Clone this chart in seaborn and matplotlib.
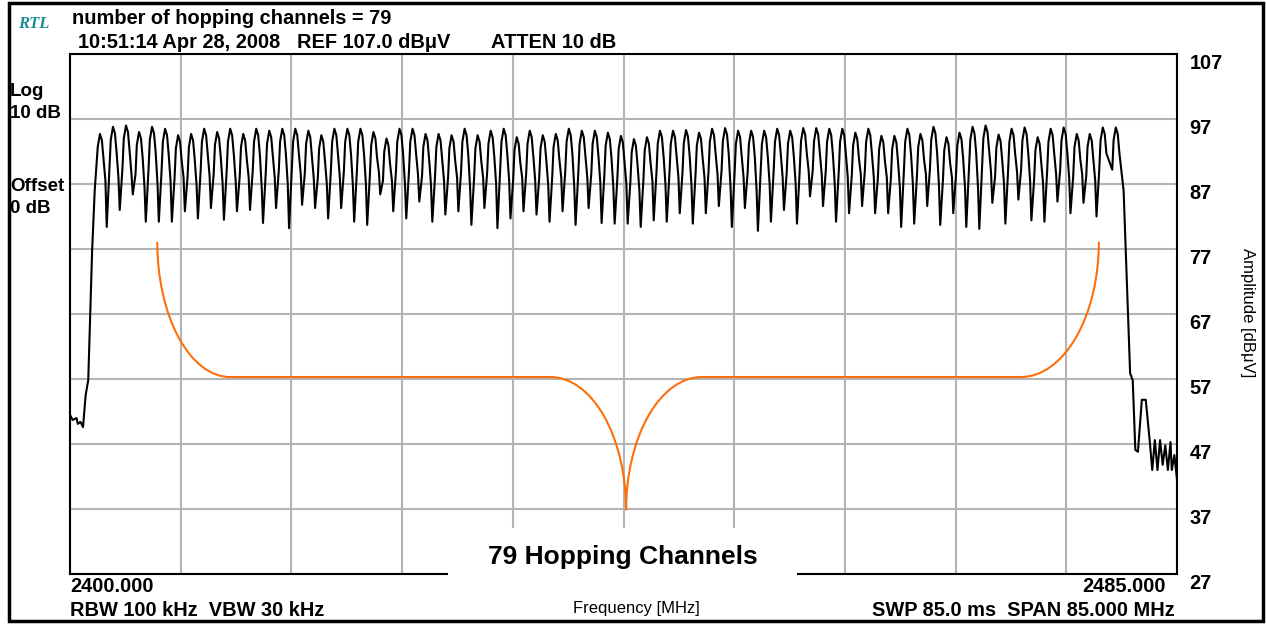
import matplotlib
matplotlib.use("Agg")
import matplotlib.pyplot as plt
from matplotlib.patches import Arc, Rectangle
import seaborn as sns
import pandas as pd

# Spectrum trace values

# left shoulder of the band (MHz, dBuV)
left_f = [2400.0, 2400.2, 2400.5, 2400.6, 2400.8, 2401.0, 2401.2, 2401.4, 2401.7, 2401.9]
left_db = [51.5, 50.7, 51.0, 50.1, 50.4, 49.6, 54.5, 56.8, 76.8, 86.1]

# one peak per hopping channel, 2402 ... 2480 MHz
channels = list(range(2402, 2481))
peaks = [94.7, 95.8, 96.0, 95.0, 95.8, 95.5, 94.5, 94.7, 95.5, 95.0,
         95.5, 94.7, 95.5, 95.2, 95.5, 95.5, 95.2, 94.5, 95.5, 95.5,
         95.5, 95.0, 94.0, 95.5, 95.5, 94.7, 94.7, 94.5, 95.5, 94.5,
         95.2, 95.5, 94.2, 95.2, 94.5, 94.7, 95.5, 95.2, 95.2,
         94.9, 94.4, 93.9, 94.2, 95.2, 95.2, 95.3, 94.9, 95.5, 95.6,
         95.2, 95.2, 95.2, 95.5, 95.2, 95.6, 95.6, 95.5, 95.5, 94.9,
         95.5, 94.4, 94.4, 95.5, 94.7, 95.8, 94.2, 94.9, 95.8, 96.0,
         94.6, 95.5, 95.7, 94.2, 95.5, 95.7, 94.7, 94.7, 95.7, 95.7]
# shoulder and sharp notch between neighbouring channels
shoulders = [87.5, 88.0, 88.5, 86.5, 87.0, 87.5, 88.0, 86.8, 88.2, 87.0,
             87.5, 88.0, 86.5, 88.0, 87.0, 88.5, 87.8, 87.0, 88.0, 86.8,
             87.0, 88.8, 87.5, 87.0, 88.5, 86.8, 87.5, 88.0, 86.5, 88.0,
             87.0, 87.5, 88.0, 87.5, 86.8, 88.0, 86.5, 88.0, 87.2,
             86.5, 87.0, 86.0, 87.5, 87.0, 88.0, 86.8, 88.0, 88.5, 86.5,
             88.0, 86.0, 87.0, 88.0, 87.0, 89.0, 88.5, 87.0, 88.0, 88.5,
             88.0, 88.0, 86.5, 87.0, 88.5, 86.8, 88.0, 86.5, 86.5, 88.8,
             87.0, 88.8, 87.5, 87.0, 88.5, 88.0, 88.5, 87.5]
dips = [80.4, 83.0, 85.4, 81.2, 81.2, 81.2, 82.8, 81.7, 83.3, 81.5,
        82.8, 83.0, 81.0, 83.3, 80.2, 83.8, 83.3, 81.7, 83.3, 81.2,
        80.7, 85.4, 82.8, 81.7, 84.3, 81.2, 82.3, 82.8, 80.7, 83.3,
        80.2, 81.7, 82.8, 82.3, 81.2, 82.8, 80.7, 83.3, 81.0,
        80.9, 80.9, 80.4, 81.4, 81.2, 82.5, 80.9, 82.5, 83.6, 80.4,
        83.3, 79.8, 81.2, 83.0, 80.9, 85.1, 83.6, 81.2, 82.5, 83.6,
        82.5, 82.5, 80.4, 80.9, 83.6, 80.7, 82.5, 80.4, 80.1, 84.1,
        80.9, 84.6, 81.4, 81.2, 84.3, 82.5, 84.1, 82.0]

# right shoulder / noise floor
right_f = [2480.9, 2481.4, 2481.6, 2481.8, 2482.0, 2482.3, 2482.6, 2482.9, 2483.1, 2483.3,
           2483.5, 2483.7, 2483.9, 2484.1, 2484.3, 2484.5, 2484.6, 2484.8, 2485.0]
right_db = [86.0, 57.9, 56.8, 46.1, 45.8, 53.8, 53.8, 47.6, 43.0, 47.6,
            43.0, 47.6, 43.8, 46.8, 43.0, 47.3, 43.0, 45.3, 41.5]

# orange outline: knots (MHz, dBuV)
mask_f = [2406.7, 2412.3, 2436.9, 2442.7, 2448.5, 2473.0, 2479.0]
mask_db = [78.1, 57.3, 57.3, 36.8, 57.3, 57.3, 78.1]

yticks = [27, 37, 47, 57, 67, 77, 87, 97, 107]

# build trace: rounded lobe per channel, then shoulder and notch
trace_f = list(left_f)
trace_db = list(left_db)
for k, c in enumerate(channels):
    p = peaks[k]
    if k > 0:
        trace_f += [c + 0.03]
        trace_db += [p - 6.5]
    trace_f += [c + 0.13, c + 0.3, c + 0.45, c + 0.58]
    trace_db += [p - 2.0, p, p - 1.0, p - 4.0]
    if k < len(dips):
        trace_f += [c + 0.72, c + 0.82]
        trace_db += [shoulders[k], dips[k]]
trace_f += right_f
trace_db += right_db
df = pd.DataFrame({"freq": trace_f, "level": trace_db})

sns.set_style("white")
plt.rcParams["font.family"] = ["Liberation Sans", "DejaVu Sans"]
plt.rcParams["text.color"] = "black"
plt.rcParams["ytick.color"] = "black"
plt.rcParams["xtick.color"] = "black"

W, H = 1266, 624
fig = plt.figure(figsize=(W / 100, H / 100), dpi=100)
ax = fig.add_axes([70 / W, 1 - 574 / H, (1177 - 70) / W, (574 - 54) / H])


def fx(x, y):
    return x / W, 1 - y / H


sns.lineplot(data=df, x="freq", y="level", color="black", lw=1.5,
             sort=False, estimator=None, ax=ax, zorder=3)

ax.set_xlim(2400, 2485)
ax.set_ylim(27, 107)
ax.set_xticks([2400 + 8.5 * i for i in range(11)])
ax.set_xticklabels([])
ax.set_yticks(yticks)
ax.yaxis.tick_right()
ax.tick_params(axis="both", length=0)
ax.tick_params(axis="y", pad=9, labelsize=14.4, labelcolor="black")
for lbl in ax.get_yticklabels():
    lbl.set_fontweight("bold")
    lbl.set_va("top")
ax.grid(True, color="#b4b4b4", lw=1.5)
for s in ax.spines.values():
    s.set_color("black")
    s.set_linewidth(1.5)
ax.set_xlabel("")
ax.set_ylabel("")

orange = "#ff6e0c"
# end arcs and centre notch
arcs = [
    ((mask_f[1], mask_db[0]), mask_f[1] - mask_f[0], mask_db[0] - mask_db[1], 180, 270),
    ((mask_f[2], mask_db[3]), mask_f[3] - mask_f[2], mask_db[2] - mask_db[3], 0, 90),
    ((mask_f[4], mask_db[3]), mask_f[4] - mask_f[3], mask_db[4] - mask_db[3], 90, 180),
    ((mask_f[5], mask_db[6]), mask_f[6] - mask_f[5], mask_db[6] - mask_db[5], 270, 360),
]
for center, rx, ry, t1, t2 in arcs:
    ax.add_patch(Arc(center, 2 * rx, 2 * ry, theta1=t1, theta2=t2,
                     color=orange, lw=1.5, zorder=3))
ax.plot(mask_f[1:3], mask_db[1:3], color=orange, lw=1.5, zorder=3)
ax.plot(mask_f[4:6], mask_db[4:6], color=orange, lw=1.5, zorder=3)

# white box breaking the bottom axis
x0, y0 = fx(448, 592)
fig.patches.append(Rectangle((x0, y0), (797 - 448) / W, (592 - 528) / H,
                             transform=fig.transFigure, fc="white", ec="none", zorder=5))
fig.text(*fx(623, 557), "79 Hopping Channels", fontsize=19, fontweight="bold",
         ha="center", va="center", zorder=6)

# outer frame
fig.patches.append(Rectangle((9 / W, 3 / H), (1263 - 9) / W, (621 - 3) / H,
                             transform=fig.transFigure, fill=False, ec="black", lw=2.5))

bold = dict(fontsize=14.4, fontweight="bold", va="center")
fig.text(*fx(18, 24), "RTL", family="Liberation Serif", style="italic", fontweight="bold",
         fontsize=12, color="#1a8c94", va="center")
fig.text(*fx(72, 18), "number of hopping channels = 79", **bold)
fig.text(*fx(78, 42), "10:51:14 Apr 28, 2008", **bold)
fig.text(*fx(297, 42), "REF 107.0 dBμV", **bold)
fig.text(*fx(491, 42), "ATTEN 10 dB", **bold)

side = dict(fontsize=13.5, fontweight="bold", va="center")
fig.text(*fx(10, 91), "Log", **side)
fig.text(*fx(10, 114), "10 dB", **side)
fig.text(*fx(10, 186), "Offset", **side)
fig.text(*fx(10, 209), "0 dB", **side)

fig.text(*fx(70, 587), "2400.000", **bold)
fig.text(*fx(1166, 587), "2485.000", ha="right", **bold)
fig.text(*fx(70, 611), "RBW 100 kHz  VBW 30 kHz", **bold)
fig.text(*fx(1175, 611), "SWP 85.0 ms  SPAN 85.000 MHz", ha="right", **bold)
fig.text(*fx(636, 608), "Frequency [MHz]", fontsize=12, ha="center", va="center")
fig.text(*fx(1248, 313), "Amplitude [dBμV]", fontsize=12, rotation=270,
         ha="center", va="center")

fig.savefig("out.png", dpi=100)
